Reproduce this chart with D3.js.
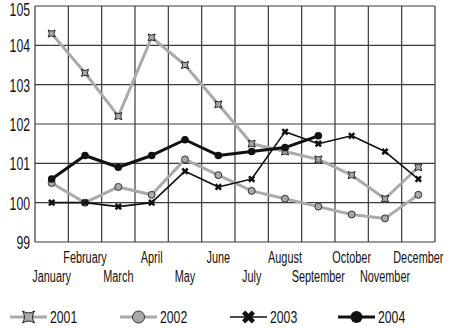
<!DOCTYPE html>
<html><head><meta charset="utf-8">
<script src="https://cdn.jsdelivr.net/npm/d3@7"></script>
<style>
html,body{margin:0;padding:0;background:#fff;}
svg{display:block;}
text{font-family:"Liberation Sans",Arial,sans-serif;fill:#111;}
</style></head>
<body>
<svg id="chart" width="450" height="328"></svg>
<script>
const months = ["January","February","March","April","May","June","July","August","September","October","November","December"];
const yTicks = [99,100,101,102,103,104,105];
const s2001 = [104.3,103.3,102.2,104.2,103.5,102.5,101.5,101.3,101.1,100.7,100.1,100.9];
const s2002 = [100.5,100.0,100.4,100.2,101.1,100.7,100.3,100.1,99.9,99.7,99.6,100.2];
const s2003 = [100.0,100.0,99.9,100.0,100.8,100.4,100.6,101.8,101.5,101.7,101.3,100.6];
const s2004 = [100.6,101.2,100.9,101.2,101.6,101.2,101.3,101.4,101.7];
const seriesNames = ["2001","2002","2003","2004"];

const svg = d3.select("#chart");
const L = 35, R = 435, T = 6, B = 242;
const x = d3.scaleBand().domain(months).range([L, R]);
const y = d3.scaleLinear().domain([99,105]).range([B, T]);

// grid
const g = svg.append("g");
g.selectAll("line.h").data(yTicks).join("line")
  .attr("x1", L).attr("x2", R).attr("y1", d => y(d)).attr("y2", d => y(d))
  .attr("stroke", "#3a3a3a").attr("stroke-width", 1.2);
const vb = months.map(m => x(m)).concat([R]);
g.selectAll("line.v").data(vb).join("line")
  .attr("x1", d => d).attr("x2", d => d).attr("y1", T).attr("y2", B)
  .attr("stroke", "#3a3a3a").attr("stroke-width", 1.2);

// y labels
svg.append("g").selectAll("text").data(yTicks).join("text")
  .attr("transform", d => `translate(30,${Math.max(y(d) + 7, 16)}) scale(0.7,1)`)
  .attr("text-anchor", "end").attr("font-size", 17.5)
  .text(d => d);

// x labels
svg.append("g").selectAll("text").data(months).join("text")
  .attr("transform", (d,i) => `translate(${x(d) + x.bandwidth()/2},${i % 2 === 0 ? 282 : 263}) scale(0.68,1)`)
  .attr("text-anchor", "middle").attr("font-size", 16)
  .text(d => d);

const cx = i => x(months[i]) + x.bandwidth()/2;
const line = d3.line().x((d,i) => cx(i)).y(d => y(d));

function star(s) {
  const a = s, b = s*0.35;
  return `M${-a},${-a} Q0,${-b} ${a},${-a} Q${b},0 ${a},${a} Q0,${b} ${-a},${a} Q${-b},0 ${-a},${-a}Z`;
}
function xmark(s, w) {
  const a = s, t = w;
  return `M${-a},${-a+t} L${-a+t},${-a} L0,${-t} L${a-t},${-a} L${a},${-a+t} L${t},0 L${a},${a-t} L${a-t},${a} L0,${t} L${-a+t},${a} L${-a},${a-t} L${-t},0Z`;
}

function drawMarker(sel, type, size) {
  if (type === "star") {
    sel.append("path").attr("d", star(size)).attr("fill", "#aaa").attr("stroke", "#222").attr("stroke-width", 1);
  } else if (type === "circleGray") {
    sel.append("circle").attr("r", size).attr("fill", "#a8a8a8").attr("stroke", "#333").attr("stroke-width", 1);
  } else if (type === "x") {
    sel.append("path").attr("d", xmark(size, size*0.5)).attr("fill", "#111");
  } else {
    sel.append("circle").attr("r", size).attr("fill", "#111");
  }
}

const series = [
  {name:"2001", data:s2001, color:"#aaa", w:3, m:"star", ms:3.5, lms:6},
  {name:"2002", data:s2002, color:"#aaa", w:3, m:"circleGray", ms:3.5, lms:6},
  {name:"2003", data:s2003, color:"#111", w:1.6, m:"x", ms:3.6, lms:6.5},
  {name:"2004", data:s2004, color:"#111", w:3, m:"circleBlack", ms:3.8, lms:6}
];

series.forEach(s => {
  svg.append("path").datum(s.data).attr("d", line)
    .attr("fill", "none").attr("stroke", s.color).attr("stroke-width", s.w)
    .attr("stroke-linejoin", "round");
  s.data.forEach((v,i) => {
    const gm = svg.append("g").attr("transform", `translate(${cx(i)},${y(v)})`);
    drawMarker(gm, s.m, s.ms);
  });
});

// legend
const legX = [10, 120, 230, 338];
series.forEach((s, k) => {
  const lg = svg.append("g").attr("transform", `translate(${legX[k]},317)`);
  lg.append("line").attr("x1", 0).attr("x2", 37).attr("y1", 0).attr("y2", 0)
    .attr("stroke", s.color).attr("stroke-width", s.w);
  const gm = lg.append("g").attr("transform", "translate(18.5,0)");
  drawMarker(gm, s.m, s.lms);
  lg.append("text").attr("transform", "translate(40,6.3) scale(0.72,1)")
    .attr("font-size", 17).text(s.name);
});
</script>
</body></html>
